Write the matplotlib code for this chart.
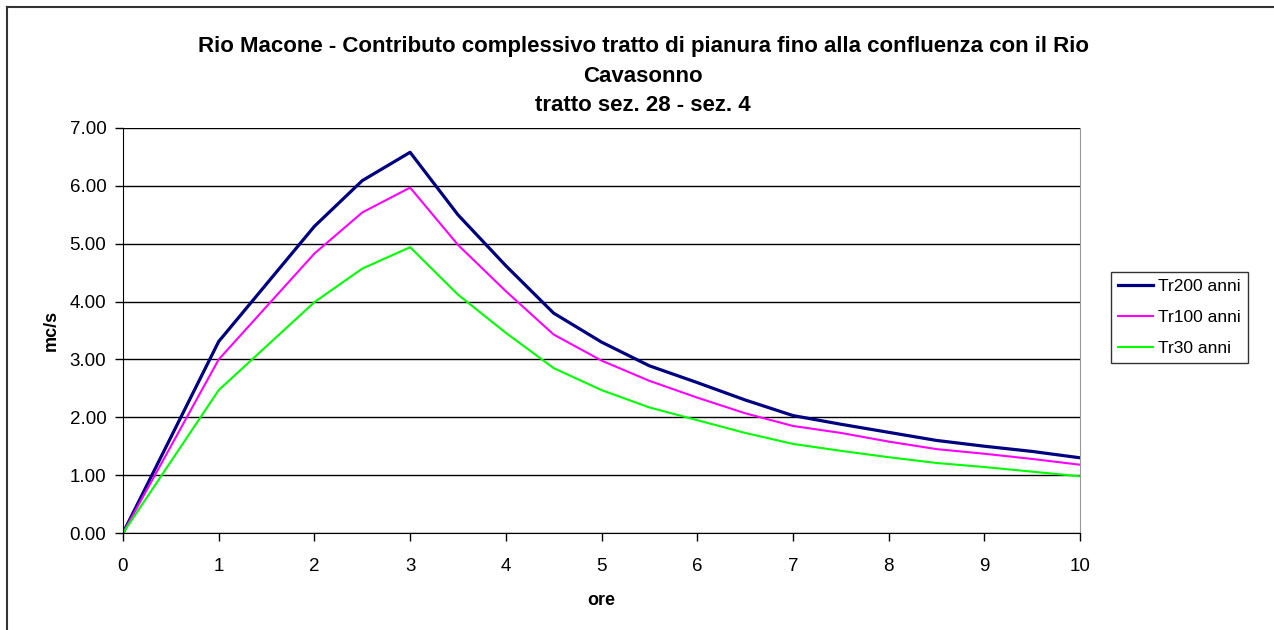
import matplotlib.pyplot as plt
from matplotlib.lines import Line2D

plt.rcParams['font.family'] = ['Liberation Sans', 'DejaVu Sans']

# ================================
# data
# ================================
ore = [0, 1, 2, 2.5, 3, 3.5, 4, 4.5, 5, 5.5, 6, 6.5, 7, 7.5, 8, 8.5, 9, 9.5, 10]
tr200 = [0.0, 3.31, 5.30, 6.09, 6.58, 5.50, 4.62, 3.80, 3.30, 2.89, 2.60, 2.30,
         2.03, 1.88, 1.74, 1.60, 1.50, 1.41, 1.30]
tr100 = [0.0, 3.00, 4.83, 5.54, 5.97, 4.98, 4.18, 3.43, 2.98, 2.63, 2.34, 2.07,
         1.85, 1.73, 1.58, 1.45, 1.37, 1.28, 1.18]
tr30 = [0.0, 2.47, 3.99, 4.57, 4.94, 4.12, 3.46, 2.85, 2.47, 2.17, 1.95, 1.73,
        1.54, 1.42, 1.31, 1.21, 1.14, 1.06, 0.98]

title = ("Rio Macone - Contributo complessivo tratto di pianura fino alla confluenza con il Rio\n"
         "Cavasonno\n"
         "tratto sez. 28 - sez. 4")

# ================================
# figure
# ================================
fig = plt.figure(figsize=(12.74, 6.3), dpi=100)
ax = fig.add_axes([123 / 1274, 1 - 533 / 630, (1080 - 123) / 1274, (533 - 128) / 630])

ax.plot(ore, tr200, color='#000080', lw=2.3, label='Tr200 anni')
ax.plot(ore, tr100, color='#FF00FF', lw=1.5, label='Tr100 anni')
ax.plot(ore, tr30, color='#00FF00', lw=1.5, label='Tr30 anni')

ax.set_xlim(0, 10)
ax.set_ylim(0, 7)
ax.set_xticks(range(0, 11))
ax.set_yticks(range(0, 8))
ax.set_yticklabels([f"{v:.2f}" for v in range(0, 8)])
ax.tick_params(labelsize=13.5, length=6, width=1, color='black')
ax.tick_params(axis='y', pad=6)
ax.tick_params(axis='x', pad=12)
ax.grid(axis='y', color='black', lw=1)
ax.set_axisbelow(True)

ax.spines['top'].set_visible(False)
ax.spines['right'].set_color('#999999')
ax.spines['left'].set_color('black')
ax.spines['bottom'].set_color('black')

ax.set_xlabel('ore', fontsize=13, fontweight='bold', labelpad=12)
ax.set_ylabel('mc/s', fontsize=13, fontweight='bold', labelpad=7)

fig.text(643 / 1274, 1 - 76 / 630, title, ha='center', va='center',
         fontsize=16, fontweight='bold', linespacing=1.55)

leg = ax.legend(loc='center left', bbox_to_anchor=(1111 / 1274, 1 - 317.5 / 630),
                bbox_transform=fig.transFigure, borderaxespad=0, fontsize=12.5,
                frameon=True, fancybox=False, edgecolor='black', handlelength=2.0,
                borderpad=0.4, labelspacing=0.9, handletextpad=0.3)
leg.get_frame().set_linewidth(1)

# chart border (top and left edges)
fig.add_artist(Line2D([7 / 1274, 7 / 1274], [0, 1 - 7 / 630], color='#333333', lw=1.5,
                      transform=fig.transFigure))
fig.add_artist(Line2D([7 / 1274, 1], [1 - 7 / 630, 1 - 7 / 630], color='#333333', lw=1.5,
                      transform=fig.transFigure))

fig.savefig('out.png', dpi=100)
